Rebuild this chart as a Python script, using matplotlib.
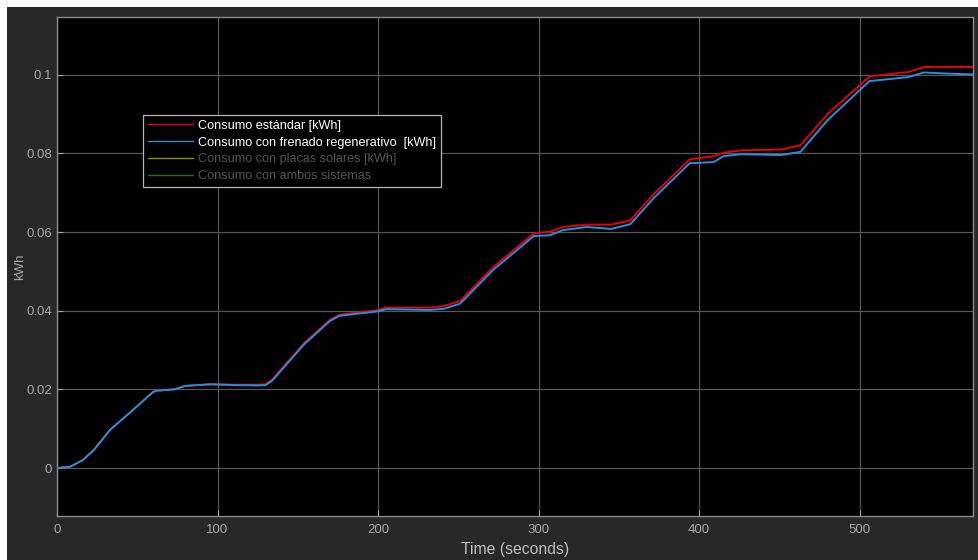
import numpy as np
import matplotlib
matplotlib.use('Agg')
import matplotlib.pyplot as plt
from matplotlib.lines import Line2D
from matplotlib.patches import Rectangle

# time (s)
t = [0, 8, 16, 23, 33, 46, 60, 63, 73, 80, 96, 110, 125, 130, 134, 154, 170,
     176, 199, 205, 232, 241, 251, 272, 297, 307, 315, 330, 345, 357, 372,
     394, 409, 415, 426, 451, 463, 480, 506, 530, 540, 555, 570]

# Consumo estandar [kWh]
estandar = [0, 0.0003, 0.002, 0.0046, 0.0097, 0.0143, 0.0194, 0.0197, 0.0200,
            0.0209, 0.0213, 0.0212, 0.0212, 0.0213, 0.0225, 0.0318, 0.0377,
            0.0390, 0.0401, 0.0408, 0.0408, 0.0412, 0.0425, 0.0512, 0.0597,
            0.0601, 0.0613, 0.0619, 0.0619, 0.0630, 0.0698, 0.0785, 0.0793,
            0.0802, 0.0808, 0.0810, 0.0821, 0.0901, 0.0996, 0.1007, 0.1020,
            0.1020, 0.1020]

# Consumo con frenado regenerativo [kWh]
frenado = [0, 0.0003, 0.002, 0.0046, 0.0097, 0.0143, 0.0194, 0.0197, 0.0200,
           0.0209, 0.0213, 0.0211, 0.0210, 0.0211, 0.0222, 0.0315, 0.0374,
           0.0387, 0.0398, 0.0404, 0.0402, 0.0405, 0.0418, 0.0505, 0.0590,
           0.0592, 0.0605, 0.0613, 0.0608, 0.0620, 0.0688, 0.0775, 0.0778,
           0.0793, 0.0798, 0.0796, 0.0804, 0.0885, 0.0984, 0.0994, 0.1006,
           0.1003, 0.1001]

labels = ['Consumo estándar [kWh]',
          'Consumo con frenado regenerativo  [kWh]',
          'Consumo con placas solares [kWh]',
          'Consumo con ambos sistemas']
colors = ['#e0000f', '#2a8fd8', '#8c8c00', '#2e7000']
text_colors = ['#ffffff', '#ffffff', '#555555', '#555555']

plt.rcParams['font.family'] = ['Liberation Sans', 'DejaVu Sans']

fig = plt.figure(figsize=(9.79, 5.6), dpi=100, facecolor='#282828')
ax = fig.add_axes([57 / 979, 44 / 560, 916 / 979, 499 / 560])
ax.set_facecolor('black')

# white screenshot borders
fig.patches.append(Rectangle((0, 1 - 7 / 560), 1, 7 / 560, transform=fig.transFigure,
                             facecolor='white', edgecolor='none', zorder=-1))
fig.patches.append(Rectangle((0, 0), 7 / 979, 1, transform=fig.transFigure,
                             facecolor='white', edgecolor='none', zorder=-1))

ax.plot(t, estandar, color=colors[0], lw=1.4, zorder=3)
ax.plot(t, frenado, color=colors[1], lw=1.4, zorder=3)

ax.set_xlim(0, 570.5)
ax.set_ylim(-0.0122, 0.1147)
ax.set_xticks([0, 100, 200, 300, 400, 500])
ax.set_yticks([0, 0.02, 0.04, 0.06, 0.08, 0.1])
ax.set_yticklabels(['0', '0.02', '0.04', '0.06', '0.08', '0.1'])

ax.grid(True, color='#575757', lw=0.9)
ax.tick_params(direction='in', colors='#a8a8a8', labelsize=9.5, length=4,
               labelcolor='#a8a8a8')
ax.tick_params(axis='x', pad=6)
for s in ax.spines.values():
    s.set_color('#8c8c8c')
    s.set_linewidth(1.0)

ax.set_xlabel('Time (seconds)', color='#bdbdbd', fontsize=11.3, labelpad=4)
ax.set_ylabel('kWh', color='#a8a8a8', fontsize=9.5, labelpad=0)

handles = [Line2D([], [], color=c, lw=1.0) for c in colors]
leg = ax.legend(handles, labels, loc='upper left', bbox_to_anchor=(0.094, 0.803),
                facecolor='black', edgecolor='#b4b4b4', framealpha=1,
                fancybox=False, fontsize=9.1, handlelength=3.6, handletextpad=0.4,
                labelspacing=0.38, borderpad=0.35, borderaxespad=0)
leg.get_frame().set_linewidth(0.9)
for txt, c in zip(leg.get_texts(), text_colors):
    txt.set_color(c)

fig.savefig('out.png', dpi=100, facecolor=fig.get_facecolor())
